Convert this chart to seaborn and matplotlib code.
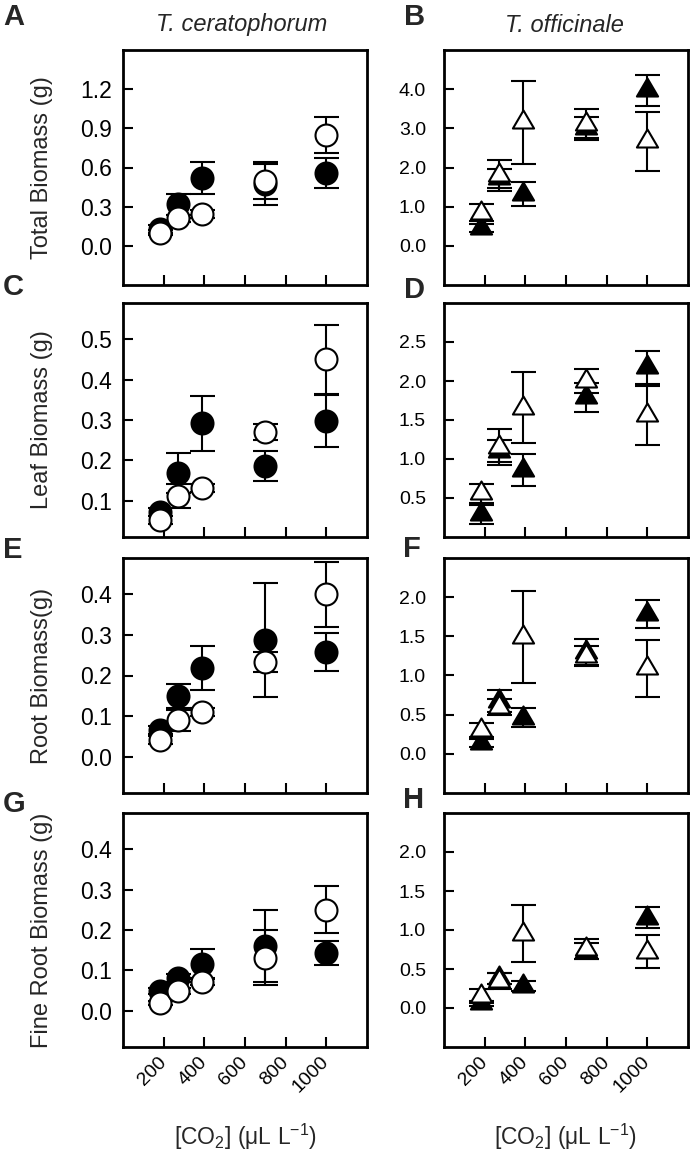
import matplotlib
matplotlib.use("Agg")
import matplotlib.pyplot as plt
from matplotlib.path import Path
from matplotlib.ticker import FormatStrFormatter
import seaborn as sns

# ---------------- data ----------------
co2 = [180, 270, 390, 700, 1000]
x_ticks = [200, 400, 600, 800, 1000]

# T. ceratophorum (circles): filled / open
tc_total_f = [0.13, 0.32, 0.52, 0.47, 0.56]
tc_total_f_err = [0.03, 0.08, 0.12, 0.16, 0.115]
tc_total_o = [0.10, 0.21, 0.245, 0.50, 0.85]
tc_total_o_err = [0.02, 0.03, 0.03, 0.14, 0.14]

tc_leaf_f = [0.073, 0.168, 0.292, 0.187, 0.298]
tc_leaf_f_err = [0.01, 0.05, 0.068, 0.037, 0.065]
tc_leaf_o = [0.052, 0.112, 0.131, 0.271, 0.45]
tc_leaf_o_err = [0.01, 0.029, 0.01, 0.02, 0.085]

tc_root_f = [0.066, 0.149, 0.218, 0.288, 0.258]
tc_root_f_err = [0.01, 0.03, 0.055, 0.14, 0.048]
tc_root_o = [0.041, 0.09, 0.109, 0.233, 0.40]
tc_root_o_err = [0.01, 0.026, 0.01, 0.025, 0.08]

tc_fine_f = [0.049, 0.081, 0.116, 0.16, 0.143]
tc_fine_f_err = [0.008, 0.01, 0.036, 0.09, 0.03]
tc_fine_o = [0.02, 0.049, 0.071, 0.131, 0.25]
tc_fine_o_err = [0.005, 0.008, 0.008, 0.068, 0.058]

# T. officinale (triangles): filled / open
to_total_f = [0.45, 1.72, 1.32, 3.0, 3.97]
to_total_f_err = [0.1, 0.25, 0.31, 0.3, 0.4]
to_total_o = [0.85, 1.8, 3.15, 3.12, 2.67]
to_total_o_err = [0.22, 0.4, 1.05, 0.37, 0.75]

to_leaf_f = [0.29, 1.10, 0.86, 1.79, 2.175]
to_leaf_f_err = [0.12, 0.14, 0.2, 0.19, 0.215]
to_leaf_o = [0.56, 1.15, 1.655, 2.0, 1.56]
to_leaf_o_err = [0.12, 0.23, 0.455, 0.16, 0.38]

to_root_f = [0.14, 0.67, 0.46, 1.3, 1.785]
to_root_f_err = [0.05, 0.14, 0.12, 0.17, 0.175]
to_root_o = [0.30, 0.6, 1.49, 1.25, 1.09]
to_root_o_err = [0.09, 0.1, 0.59, 0.13, 0.36]

to_fine_f = [0.06, 0.38, 0.28, 0.73, 1.16]
to_fine_f_err = [0.03, 0.07, 0.06, 0.1, 0.13]
to_fine_o = [0.16, 0.35, 0.955, 0.76, 0.72]
to_fine_o_err = [0.09, 0.1, 0.365, 0.13, 0.21]

left_ylabels = ["Total Biomass (g)", "Leaf Biomass (g)", "Root Biomass(g)", "Fine Root Biomass (g)"]
titles = ["T. ceratophorum", "T. officinale"]
letters = ["A", "B", "C", "D", "E", "F", "G", "H"]

# ---------------- style ----------------
sns.set_theme(style="ticks")
plt.rcParams['font.family'] = ['Liberation Sans', 'DejaVu Sans']
plt.rcParams['mathtext.fontset'] = 'custom'
plt.rcParams['mathtext.rm'] = 'Liberation Sans'
plt.rcParams['mathtext.it'] = 'Liberation Sans:italic'

W, H = 692, 1151
fig = plt.figure(figsize=(W / 100, H / 100), dpi=100)

def add_ax(x0, x1, top, bottom):
    return fig.add_axes([x0 / W, (H - bottom) / H, (x1 - x0) / W, (bottom - top) / H])

rows_px = [(50, 285), (303, 537), (558, 793), (813, 1047)]
cols_px = [(123, 367), (444, 688)]

tri = Path([(0, 1), (-0.88, -0.5), (0.88, -0.5), (0, 1)],
           [Path.MOVETO, Path.LINETO, Path.LINETO, Path.CLOSEPOLY])

panels_left = [
    (tc_total_f, tc_total_f_err, tc_total_o, tc_total_o_err, (-0.3, 1.5), [0.0, 0.3, 0.6, 0.9, 1.2]),
    (tc_leaf_f, tc_leaf_f_err, tc_leaf_o, tc_leaf_o_err, (0.01, 0.59), [0.1, 0.2, 0.3, 0.4, 0.5]),
    (tc_root_f, tc_root_f_err, tc_root_o, tc_root_o_err, (-0.09, 0.49), [0.0, 0.1, 0.2, 0.3, 0.4]),
    (tc_fine_f, tc_fine_f_err, tc_fine_o, tc_fine_o_err, (-0.09, 0.49), [0.0, 0.1, 0.2, 0.3, 0.4]),
]
panels_right = [
    (to_total_f, to_total_f_err, to_total_o, to_total_o_err, (-1.0, 5.0), [0.0, 1.0, 2.0, 3.0, 4.0]),
    (to_leaf_f, to_leaf_f_err, to_leaf_o, to_leaf_o_err, (0.0, 3.0), [0.5, 1.0, 1.5, 2.0, 2.5]),
    (to_root_f, to_root_f_err, to_root_o, to_root_o_err, (-0.5, 2.5), [0.0, 0.5, 1.0, 1.5, 2.0]),
    (to_fine_f, to_fine_f_err, to_fine_o, to_fine_o_err, (-0.5, 2.5), [0.0, 0.5, 1.0, 1.5, 2.0]),
]

def draw(ax, f, fe, o, oe, marker, s):
    eb = dict(fmt='none', ecolor='black', elinewidth=1.5, capsize=9, capthick=1.5)
    ax.errorbar(co2, f, yerr=fe, zorder=2, **eb)
    sns.scatterplot(x=co2, y=f, ax=ax, marker=marker, s=s, color='black',
                    edgecolor='black', linewidth=1.5, zorder=3, legend=False)
    ax.errorbar(co2, o, yerr=oe, zorder=4, **eb)
    sns.scatterplot(x=co2, y=o, ax=ax, marker=marker, s=s, color='white',
                    edgecolor='black', linewidth=1.5, zorder=5, legend=False)

for ci, (panels, marker, s, fs, pad) in enumerate([
        (panels_left, 'o', 250, 16.5, 8),
        (panels_right, tri, 300, 14, 13)]):
    x0, x1 = cols_px[ci]
    for ri, (f, fe, o, oe, ylim, yt) in enumerate(panels):
        top, bottom = rows_px[ri]
        ax = add_ax(x0, x1, top, bottom)
        draw(ax, f, fe, o, oe, marker, s)
        ax.set_xlim(0, 1200)
        ax.set_ylim(*ylim)
        ax.set_yticks(yt)
        ax.yaxis.set_major_formatter(FormatStrFormatter('%.1f'))
        ax.set_xticks(x_ticks)
        for sp in ax.spines.values():
            sp.set_linewidth(2)
            sp.set_color('black')
        ax.tick_params(direction='in', length=7, width=1.5, colors='black',
                       labelsize=fs, pad=pad)
        ax.set_xlabel('')
        ax.set_ylabel('')
        if ri == 3:
            ax.set_xticklabels([str(t) for t in x_ticks], rotation=45, ha='right',
                               va='center', rotation_mode='anchor', fontsize=14)
            ax.tick_params(axis='x', pad=9)
        else:
            ax.set_xticklabels([])
        if ci == 0:
            ax.set_ylabel(left_ylabels[ri], fontsize=17)
            ax.yaxis.set_label_coords((53 - 123) / 244, 0.5)

# titles
fig.text(242 / W, 1 - 25 / H, titles[0], style='italic', ha='center', va='center', fontsize=17)
fig.text(564 / W, 1 - 25 / H, titles[1], style='italic', ha='center', va='center', fontsize=17)

# x labels
xl = "[CO$_\\mathregular{2}$] (μL L$^\\mathregular{-1}$)"
for cx in (246, 566):
    fig.text(cx / W, 1 - 1137 / H, xl, ha='center', va='center', fontsize=16.5)

# panel letters
letter_pos = [(3, 3), (404, 3), (3, 273), (404, 276), (3, 536), (403, 535), (3, 790), (403, 786)]
for L, (lx, ly) in zip(letters, letter_pos):
    fig.text(lx / W, 1 - ly / H, L, ha='left', va='top', fontsize=21, fontweight='bold')

fig.savefig("out.png", dpi=100)
